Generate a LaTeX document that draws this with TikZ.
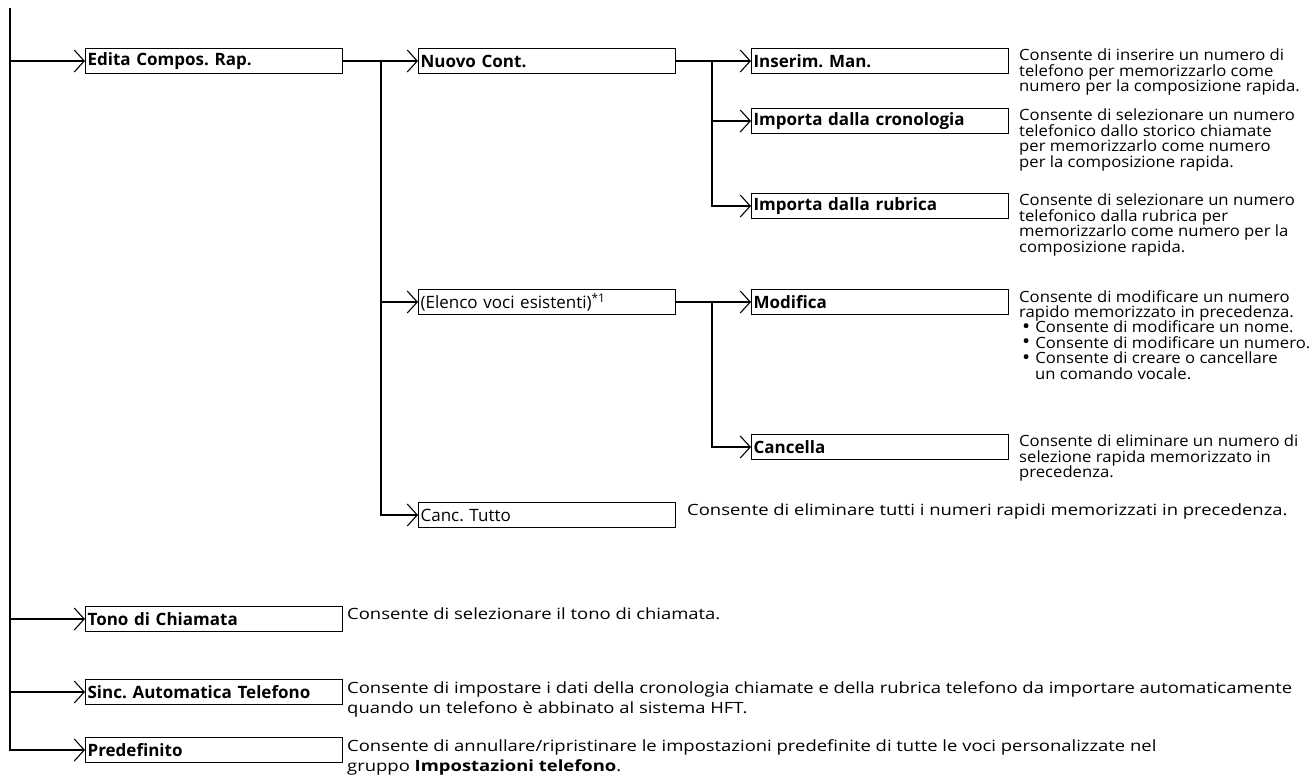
\documentclass[tikz,border=0pt]{standalone}
\usepackage{fontspec}
\setmainfont{Open Sans}
\newfontfamily\colfont{Open Sans}[FakeStretch=1.075]
\newfontfamily\rowfont{Open Sans}[FakeStretch=1.19]
\usetikzlibrary{arrows.meta,calc,positioning}

\newcommand{\itemdot}{\hspace*{3pt}\raisebox{-0.5pt}{\scalebox{1.3}{•}}\hspace{5pt}}

\begin{document}
\frenchspacing
\lineskiplimit=-20pt
\begin{tikzpicture}[
      x=1pt,y=-1pt,
      font=\fontsize{17}{15}\selectfont,
      menu/.style={draw,line width=1.2pt,anchor=west,inner xsep=2pt,inner ysep=0pt,
        text width=253pt,minimum height=25pt,align=left,font=\fontsize{17}{15}\selectfont\bfseries},
      plain/.style={menu,font=\fontsize{17}{15}\selectfont},
      info/.style={anchor=north west,inner sep=0pt,align=left,font=\colfont\fontsize{15.5}{15.4}\selectfont},
      longinfo/.style={info,font=\rowfont\fontsize{15.5}{20}\selectfont},
      arrow/.style={-{Straight Barb[length=10pt,width=22pt,line width=1.1pt]},line width=2.4pt}
    ]
      \useasboundingbox (0,0) rectangle (1315,777);
      % level 1
      \node[menu] (edita) at (85,61) {Edita Compos. Rap.};
      \node[menu] (tono) at (85,619) {Tono di Chiamata};
      \node[menu] (sinc) at (85,692) {Sinc. Automatica Telefono};
      \node[menu] (predef) at (85,750) {Predefinito};
      % level 2
      \node[menu] (nuovo) at (418,61) {Nuovo Cont.};
      \node[plain] (elenco) at (418,302) {(Elenco voci esistenti)\textsuperscript{*1}};
      \node[plain] (canctutto) at (418,515) {Canc. Tutto};
      % level 3
      \node[menu] (inserim) at (751,61) {Inserim. Man.};
      \node[menu] (cronol) at (751,121) {Importa dalla cronologia};
      \node[menu] (rubrica) at (751,206) {Importa dalla rubrica};
      \node[menu] (modifica) at (751,302) {Modifica};
      \node[menu] (cancella) at (751,447) {Cancella};
      % descriptions
      \node[info] (dinserim) at (1019,49) {Consente di inserire un numero di\\telefono per memorizzarlo come\\numero per la composizione rapida.};
      \node[info] (dcronol) at (1019,109) {Consente di selezionare un numero\\telefonico dallo storico chiamate\\per memorizzarlo come numero\\per la composizione rapida.};
      \node[info] (drubrica) at (1019,194) {Consente di selezionare un numero\\telefonico dalla rubrica per\\memorizzarlo come numero per la\\composizione rapida.};
      \node[info] (dmodifica) at (1019,290) {Consente di modificare un numero\\rapido memorizzato in precedenza.\\
        \itemdot Consente di modificare un nome.\\
        \itemdot Consente di modificare un numero.\\
        \itemdot Consente di creare o cancellare\\
        \hspace*{16pt}un comando vocale.};
      \node[info] (dcancella) at (1019,435) {Consente di eliminare un numero di\\selezione rapida memorizzato in\\precedenza.};
      \node[longinfo] (dcanctutto) at (687,504) {Consente di eliminare tutti i numeri rapidi memorizzati in precedenza.};
      \node[longinfo] (dtono) at (347,608) {Consente di selezionare il tono di chiamata.};
      \node[longinfo] (dsinc) at (347,681) {Consente di impostare i dati della cronologia chiamate e della rubrica telefono da importare automaticamente\\quando un telefono è abbinato al sistema HFT.};
      \node[longinfo] (dpredef) at (347,739) {Consente di annullare/ripristinare le impostazioni predefinite di tutte le voci personalizzate nel\\gruppo \textbf{Impostazioni telefono}.};
      % connectors
      \coordinate (top) at (10,8);
      \coordinate (j1) at (381,61);
      \coordinate (j2) at (712,61);
      \coordinate (j3) at (712,302);
      \draw[arrow] (top) |- (predef.west);
      \draw[arrow] (top |- edita.west) -- (edita.west);
      \draw[arrow] (top |- tono.west) -- (tono.west);
      \draw[arrow] (top |- sinc.west) -- (sinc.west);
      \draw[arrow] (edita.east) -- (nuovo.west);
      \draw[arrow] (j1) |- (elenco.west);
      \draw[arrow] (j1) |- (canctutto.west);
      \draw[arrow] (nuovo.east) -- (inserim.west);
      \draw[arrow] (j2) |- (cronol.west);
      \draw[arrow] (j2) |- (rubrica.west);
      \draw[arrow] (elenco.east) -- (modifica.west);
      \draw[arrow] (j3) |- (cancella.west);
    \end{tikzpicture}
\end{document}
